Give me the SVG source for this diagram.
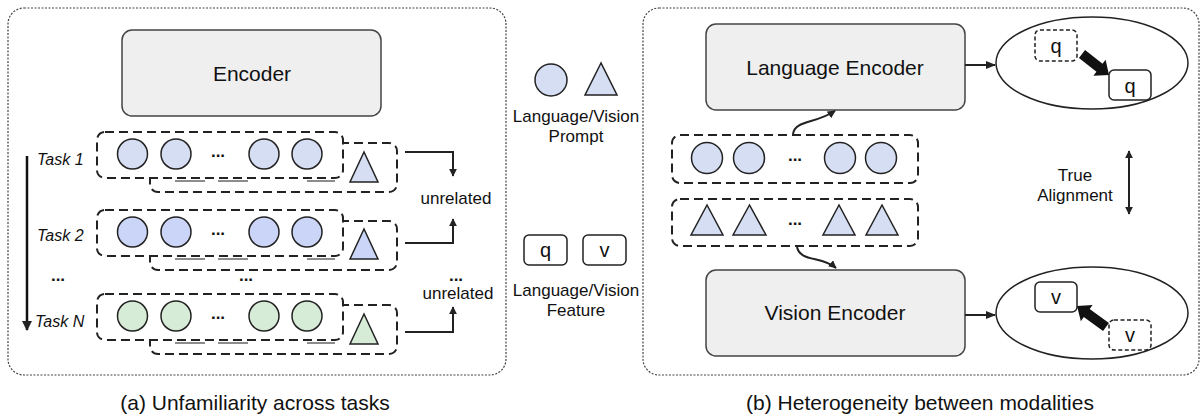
<svg xmlns="http://www.w3.org/2000/svg" width="1202" height="417" viewBox="0 0 1202 417">
<defs>
<marker id="ah" viewBox="0 0 10 10" refX="9" refY="5" markerWidth="4" markerHeight="4" orient="auto-start-reverse" markerUnits="strokeWidth"><path d="M0,0 L10,5 L0,10 z" fill="#222"/></marker>
<marker id="ahs" viewBox="0 0 10 10" refX="9" refY="5" markerWidth="5" markerHeight="5" orient="auto-start-reverse" markerUnits="strokeWidth"><path d="M0,1 L10,5 L0,9 z" fill="#222"/></marker>
</defs>
<style>
text{font-family:"Liberation Sans",Arial,sans-serif;fill:#111}
.panel{fill:#fff;stroke:#444;stroke-width:1.2;stroke-dasharray:2 1.5}
.enc{fill:#efefef;stroke:#444;stroke-width:1.5}
.dbox{fill:#fff;stroke:#222;stroke-width:2;stroke-dasharray:9 5}
.dboxn{fill:none;stroke:#222;stroke-width:2;stroke-dasharray:9 5}
.cb{fill:#d6def3;stroke:#222;stroke-width:1.5}
.cb2{fill:#cbd5f8;stroke:#222;stroke-width:1.5}
.cg{fill:#d7ecd6;stroke:#222;stroke-width:1.5}
.ul{stroke:#666;stroke-width:1.5}
.conn{fill:none;stroke:#222;stroke-width:2}
.task{font-size:16px;font-style:italic}
.lbl{font-size:17px;text-anchor:middle}
.dots{font-size:17px;font-weight:bold;text-anchor:middle}
.fbox{fill:#fff;stroke:#222;stroke-width:1.5}
.fboxd{fill:#fff;stroke:#222;stroke-width:1.5;stroke-dasharray:4 2.5}
.ft{font-size:20px;text-anchor:middle}
.big{font-size:21px;text-anchor:middle}
.cap{font-size:21px;text-anchor:middle}
</style>

<g id="panel-a"><rect class="panel" x="8" y="8" width="498" height="367" rx="16"/></g>
<g id="panel-b"><rect class="panel" x="643" y="8" width="556" height="367" rx="16"/></g>

<g id="encoder">
<rect class="enc" x="122" y="30" width="259" height="86" rx="10"/>
<text class="big" x="252" y="81">Encoder</text>
</g>

<g id="task-axis">
<line x1="27" y1="156" x2="27" y2="330" stroke="#111" stroke-width="2.5" marker-end="url(#ah)"/>
<text class="task" x="37" y="165">Task 1</text>
<text class="task" x="37" y="241">Task 2</text>
<text class="dots" x="58" y="281">...</text>
<text class="task" x="35" y="327">Task N</text>
<text class="dots" x="246" y="281">...</text>
</g>

<g id="row1">
<rect class="dboxn" x="150" y="143" width="247" height="49" rx="8"/>
<rect class="dbox" x="97" y="132" width="246" height="46" rx="8"/>
<line class="ul" x1="175" y1="181" x2="205" y2="181"/><line class="ul" x1="218" y1="181" x2="248" y2="181"/><line class="ul" x1="307" y1="181" x2="335" y2="181"/>
<circle class="cb" cx="132.5" cy="154" r="15"/><circle class="cb" cx="176" cy="154" r="15"/>
<text class="dots" x="218" y="157">...</text>
<circle class="cb" cx="264" cy="154" r="15"/><circle class="cb" cx="307" cy="154" r="15"/>
<polygon class="cb" points="364,152 350,182 378,182"/>
</g>

<g id="row2">
<rect class="dboxn" x="150" y="221" width="247" height="49" rx="8"/>
<rect class="dbox" x="97" y="210" width="246" height="46" rx="8"/>
<line class="ul" x1="175" y1="259" x2="205" y2="259"/><line class="ul" x1="218" y1="259" x2="248" y2="259"/><line class="ul" x1="307" y1="259" x2="335" y2="259"/>
<circle class="cb2" cx="132.5" cy="232" r="15"/><circle class="cb2" cx="176" cy="232" r="15"/>
<text class="dots" x="218" y="235">...</text>
<circle class="cb2" cx="264" cy="232" r="15"/><circle class="cb2" cx="307" cy="232" r="15"/>
<polygon class="cb2" points="364,229 350,259 378,259"/>
</g>

<g id="rowN">
<rect class="dboxn" x="150" y="305" width="247" height="49" rx="8"/>
<rect class="dbox" x="97" y="294" width="246" height="46" rx="8"/>
<line class="ul" x1="175" y1="343" x2="205" y2="343"/><line class="ul" x1="218" y1="343" x2="248" y2="343"/><line class="ul" x1="307" y1="343" x2="335" y2="343"/>
<circle class="cg" cx="132.5" cy="316" r="15"/><circle class="cg" cx="176" cy="316" r="15"/>
<text class="dots" x="218" y="319">...</text>
<circle class="cg" cx="264" cy="316" r="15"/><circle class="cg" cx="307" cy="316" r="15"/>
<polygon class="cg" points="364,314 350,344 378,344"/>
</g>

<g id="unrelated-labels">
<text class="lbl" x="456" y="204">unrelated</text>
<text class="dots" x="456" y="281">...</text>
<text class="lbl" x="458" y="299">unrelated</text>
</g>

<g id="legend">
<circle class="cb" cx="551" cy="80" r="16"/>
<polygon class="cb" points="601,63 585,95 617,95"/>
<text class="lbl" x="576" y="122">Language/Vision</text>
<text class="lbl" x="576" y="142">Prompt</text>
<rect class="fbox" x="524" y="235" width="43" height="30" rx="5"/>
<text class="ft" x="545.5" y="257">q</text>
<rect class="fbox" x="583" y="235" width="43" height="30" rx="5"/>
<text class="ft" x="604.5" y="257">v</text>
<text class="lbl" x="576" y="296">Language/Vision</text>
<text class="lbl" x="576" y="316">Feature</text>
</g>

<g id="language-encoder">
<rect class="enc" x="706" y="24" width="259" height="86" rx="10"/>
<text class="big" x="835" y="75">Language Encoder</text>
</g>

<g id="vision-encoder">
<rect class="enc" x="706" y="270" width="259" height="86" rx="10"/>
<text class="big" x="835" y="320">Vision Encoder</text>
</g>

<g id="lang-prompts">
<rect class="dbox" x="672" y="135" width="246" height="48" rx="8"/>
<circle class="cb" cx="707" cy="158" r="15.5"/><circle class="cb" cx="749" cy="158" r="15.5"/>
<text class="dots" x="795" y="161">...</text>
<circle class="cb" cx="840" cy="158" r="15.5"/><circle class="cb" cx="881" cy="158" r="15.5"/>
</g>

<g id="vision-prompts">
<rect class="dbox" x="672" y="199" width="246" height="47" rx="8"/>
<polygon class="cb" points="707,205 691,235 723,235"/>
<polygon class="cb" points="749.5,205 733,235 766,235"/>
<text class="dots" x="795" y="225">...</text>
<polygon class="cb" points="839,205 823,235 855,235"/>
<polygon class="cb" points="882,205 866,235 898,235"/>
</g>

<g id="lang-space">
<ellipse cx="1092" cy="63" rx="96" ry="46" fill="#fff" stroke="#222" stroke-width="1.5"/>
<rect class="fboxd" x="1035" y="30" width="42" height="31" rx="5"/>
<text class="ft" x="1056" y="53">q</text>
<rect class="fbox" x="1109" y="70" width="42" height="30" rx="5"/>
<text class="ft" x="1130" y="93">q</text>
<polygon fill="#111" points="1085.05,50.03 1102.55,63.73 1105.6,59.77 1109,75 1093.4,75.63 1096.45,71.67 1078.95,57.97"/>
</g>

<g id="vision-space">
<ellipse cx="1092" cy="313" rx="96" ry="46" fill="#fff" stroke="#222" stroke-width="1.5"/>
<rect class="fbox" x="1035" y="282" width="42" height="30" rx="5"/>
<text class="ft" x="1056" y="304">v</text>
<rect class="fboxd" x="1109" y="320" width="42" height="30" rx="5"/>
<text class="ft" x="1130" y="342">v</text>
<polygon fill="#111" points="1108.94,322.95 1089.66,308.99 1092.59,304.94 1077,306 1080.85,321.14 1083.79,317.09 1103.06,331.05"/>
</g>

<g id="alignment">
<text class="lbl" x="1075" y="181">True</text>
<text class="lbl" x="1075" y="201">Alignment</text>
</g>

<g id="connectors">
<path class="conn" d="M405,152 H453 V176" marker-end="url(#ah)"/>
<path class="conn" d="M405,243 H453 V219" marker-end="url(#ah)"/>
<path class="conn" d="M405,332 H453 V307" marker-end="url(#ah)"/>
<path class="conn" d="M793,134 C795,120 815,124 835,111" marker-end="url(#ah)"/>
<path class="conn" d="M797,247 C800,262 822,256 836,268" marker-end="url(#ah)"/>
<line class="conn" x1="965" y1="65" x2="995" y2="65" stroke-width="1.5" marker-end="url(#ahs)"/>
<line class="conn" x1="965" y1="315" x2="995" y2="315" stroke-width="1.5" marker-end="url(#ahs)"/>
<line class="conn" x1="1129" y1="151" x2="1129" y2="214" marker-start="url(#ah)" marker-end="url(#ah)"/>
</g>

<g id="captions">
<text class="cap" x="255" y="410">(a) Unfamiliarity across tasks</text>
<text class="cap" x="920" y="410">(b) Heterogeneity between modalities</text>
</g>
</svg>
